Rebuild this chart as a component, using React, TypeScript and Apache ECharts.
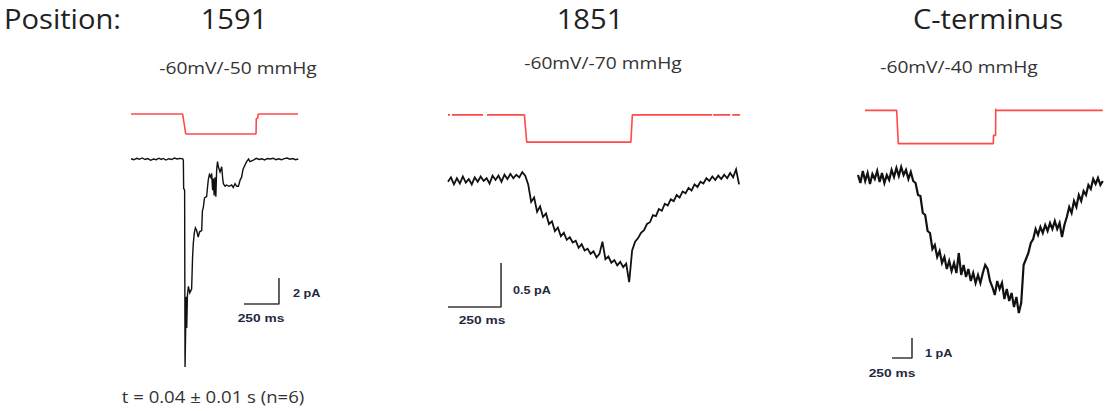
import { useEffect, useRef } from "react";
import * as echarts from "echarts";

// ---------- texts ----------
const headerLabel = "Position:";
const positionLabels = ["1591", "1851", "C-terminus"];
const conditionLabels = ["-60mV/-50 mmHg", "-60mV/-70 mmHg", "-60mV/-40 mmHg"];
const footerLabel = "t = 0.04 \u00b1 0.01 s (n=6)";

// ---------- pressure steps (ms, mmHg) ----------
const stim1Time = [0, 369, 391, 893, 895, 905, 909, 1193];
const stim1Pressure = [0, 0, -50, -50, -12, -10, 0, 0];

const stim2Time = [0, 9, 12, 19, 165, 175, 184, 360, 371, 858, 862, 869, 1245, 1247, 1250, 1330, 1335, 1340, 1376];
const stim2Pressure = [0, 0, "-", 0, 0, "-", 0, 0, -70, -70, -70, 0, 0, "-", 0, 0, "-", 0, 0];

const stim3Time = [87, 483, 504, 1692, 1694, 1720, 1722, 1725, 3060];
const stim3Pressure = [0, 0, -40, -40, -30, -30, 2, 0, 0];

// ---------- current traces (pA) ----------
const trace1Time = [
  0, 20, 40, 60, 80, 100, 120, 140, 160, 180, 200, 215, 230, 250, 270, 290, 310, 330, 350, 370,
  374, 376, 383, 386, 390, 395, 398, 403, 410, 420, 433, 440, 445, 452, 460, 469, 480, 490, 505, 510,
  517, 525, 540, 552, 560, 570, 576, 583, 588, 594, 600, 606, 612, 618, 624, 636, 648, 655, 660, 672,
  683, 700, 719, 730, 743, 755, 767, 780, 790, 800, 814, 826, 840, 850, 874, 895, 915, 935, 955, 975,
  995, 1015, 1035, 1055, 1075, 1095, 1115, 1135, 1155, 1175, 1195,
];
const trace1Current = [
  0.02, -0.06, 0.05, -0.02, 0.08, -0.04, 0.03, -0.1, 0.0, -0.05, 0.06, -0.03, 0.04, -0.08, 0.02, -0.04, 0.07, 0.0, 0.05, 0.01,
  -0.1, -2.25, -2.4, -16, -13.4, -10.6, -13, -10.5, -9.8, -10.3, -10, -7.5, -6.5, -5.7, -5.3, -5.5, -6, -5.6, -5.5, -4,
  -3.7, -3, -2.9, -1.6, -1.2, -1.4, -1.1, -2.4, -1.5, -2.8, -1.4, -2.9, -0.8, -0.2, -0.6, -1, -0.6, -1.5, -1.9, -2.1,
  -2, -2.1, -2, -2.2, -1.9, -2.1, -2.1, -1.6, -1.4, -0.8, -0.46, -0.2, 0, -0.2, -0.08, 0.05, -0.04, 0.02, -0.07, 0.04,
  0.0, 0.06, -0.05, 0.02, -0.06, 0.03, 0.07, -0.02, 0.04, -0.05, 0.0,
];

const trace2SampleMs = 14;
const trace2Current = [
  -0.02, 0.03, -0.05, 0.02, -0.04, 0.04, -0.03, 0.01, -0.05, 0.03,
  -0.02, 0.04, -0.01, 0.02, -0.04, 0.05, 0.0, 0.05, -0.02, 0.06,
  0.01, 0.07, 0.02, 0.06, 0.03, 0.09, 0.05, -0.05, -0.25, -0.2,
  -0.36, -0.3, -0.42, -0.38, -0.5, -0.47, -0.58, -0.54, -0.64, -0.6,
  -0.68, -0.65, -0.71, -0.69, -0.77, -0.73, -0.8, -0.78, -0.84, -0.81,
  -0.88, -0.84, -0.7, -0.9, -0.87, -0.94, -0.91, -0.97, -0.93, -0.99,
  -0.95, -1.16, -0.8, -0.7, -0.66, -0.6, -0.57, -0.5, -0.48, -0.4,
  -0.41, -0.33, -0.35, -0.27, -0.29, -0.22, -0.24, -0.17, -0.2, -0.13,
  -0.15, -0.09, -0.12, -0.05, -0.08, -0.02, -0.04, 0.02, -0.01, 0.04,
  0.0, 0.05, 0.01, 0.06, 0.02, 0.08, 0.03, 0.12, -0.05,
];

const trace3SampleMs = 30;
const trace3Current = [
  0.1, -0.3, 0.3, -0.2, 0.2, -0.35, 0.15, -0.1, 0.3, -0.25,
  0.2, -0.3, 0.1, -0.15, 0.35, 0.0, 0.45, 0.05, 0.5, 0.1,
  0.35, -0.1, 0.25, -0.2, -0.3, -0.9, -0.95, -1.8, -1.9, -2.7,
  -2.8, -3.6, -3.4, -4.0, -3.7, -4.3, -4.0, -4.6, -4.2, -4.7,
  -4.3, -4.8, -3.8, -4.9, -4.4, -5.0, -4.6, -5.2, -4.8, -5.3,
  -4.9, -5.3, -4.8, -4.4, -4.6, -5.2, -5.5, -5.9, -5.2, -5.6,
  -5.3, -6.1, -5.6, -6.2, -5.8, -6.5, -6.0, -6.8, -6.3, -4.4,
  -4.1, -3.8, -3.3, -3.1, -2.6, -2.9, -2.5, -2.8, -2.4, -2.7,
  -2.3, -2.6, -2.2, -2.6, -2.3, -3.0, -2.4, -2.0, -1.5, -1.8,
  -1.2, -1.5, -0.9, -1.2, -0.7, -0.9, -0.4, -0.6, -0.1, -0.35,
  -0.05, -0.4, -0.2,
];

// ---------- scale bars ----------
const scaleBarMs = [250, 250, 250];
const scaleBarPa = [2, 0.5, 1];

export default function App() {
  const ref = useRef<HTMLDivElement>(null);

  useEffect(() => {
    if (!ref.current) return;
    const chart = echarts.init(ref.current, null, { renderer: "svg" });

    const stimData = [
      stim1Time.map((t, i) => [t, stim1Pressure[i]]),
      stim2Time.map((t, i) => [t, stim2Pressure[i]]),
      stim3Time.map((t, i) => [t, stim3Pressure[i]]),
    ];
    const traceData = [
      trace1Time.map((t, i) => [t, trace1Current[i]]),
      trace2Current.map((v, i) => [i * trace2SampleMs, v]),
      trace3Current.map((v, i) => [i * trace3SampleMs, v]),
    ];

    const layout = [
      {
        stim: { left: 131, top: 110, width: 168, height: 28, xMax: 1200, yMin: -60, yMax: 10 },
        trace: { left: 131, top: 146, width: 168, height: 221, xMax: 1200, yMin: -16, yMax: 1 },
        traceWidth: 1.4,
        corner: [1057, -11.15],
        pALabel: [293, 293],
        msLabel: [261, 318],
        title: [234, 18],
        cond: [238, 68],
      },
      {
        stim: { left: 448, top: 111, width: 297, height: 35, xMax: 1400, yMin: -80, yMax: 10 },
        trace: { left: 448, top: 158, width: 297, height: 154, xMax: 1400, yMin: -1.5, yMax: 0.25 },
        traceWidth: 1.8,
        corner: [250, -1.443],
        pALabel: [513, 290],
        msLabel: [482, 320],
        title: [590, 18],
        cond: [603, 63],
      },
      {
        stim: { left: 858, top: 102, width: 248, height: 50, xMax: 3100, yMin: -50, yMax: 10 },
        trace: { left: 858, top: 157, width: 248, height: 210, xMax: 3100, yMin: -9.5, yMax: 1 },
        traceWidth: 2.2,
        corner: [675, -9.05],
        pALabel: [925, 353],
        msLabel: [892, 373],
        title: [988, 18],
        cond: [959, 67],
      },
    ];

    const grids: any[] = [];
    const xAxes: any[] = [];
    const yAxes: any[] = [];
    const series: any[] = [];
    const graphics: any[] = [];

    const txt = (
      text: string,
      x: number,
      y: number,
      font: string,
      fill: string,
      align: string,
      scaleX = 1
    ) => ({
      type: "text",
      x,
      y,
      scaleX,
      silent: true,
      style: {
        text,
        x: 0,
        y: 0,
        font,
        fill,
        align,
        verticalAlign: "middle",
        textAlign: align,
        textVerticalAlign: "middle",
      },
    });

    layout.forEach((p, k) => {
      [p.stim, p.trace].forEach((g) => {
        grids.push({ left: g.left, top: g.top, width: g.width, height: g.height, containLabel: false });
        const gi = grids.length - 1;
        xAxes.push({ type: "value", gridIndex: gi, min: 0, max: g.xMax, show: false });
        yAxes.push({ type: "value", gridIndex: gi, min: g.yMin, max: g.yMax, show: false });
      });
      const sIdx = 2 * k;
      const tIdx = 2 * k + 1;
      series.push({
        type: "line",
        xAxisIndex: sIdx,
        yAxisIndex: sIdx,
        data: stimData[k],
        showSymbol: false,
        symbol: "none",
        clip: false,
        connectNulls: false,
        lineStyle: { color: "#ff4a4a", width: 1.6 },
      });
      series.push({
        type: "line",
        xAxisIndex: tIdx,
        yAxisIndex: tIdx,
        data: traceData[k],
        showSymbol: false,
        symbol: "none",
        clip: false,
        lineStyle: { color: "#111111", width: p.traceWidth, join: "miter" },
      });
      const [cx, cy] = p.corner;
      series.push({
        type: "line",
        xAxisIndex: tIdx,
        yAxisIndex: tIdx,
        data: [
          [cx - scaleBarMs[k], cy],
          [cx, cy],
          [cx, cy + scaleBarPa[k]],
        ],
        showSymbol: false,
        symbol: "none",
        clip: false,
        lineStyle: { color: "#3a3a3a", width: 1.6 },
      });

      graphics.push(txt(positionLabels[k], p.title[0], p.title[1], "28px 'Open Sans'", "#222222", "center", 1.04));
      graphics.push(txt(conditionLabels[k], p.cond[0], p.cond[1], "16px 'Open Sans'", "#333333", "center", 1.2));
      graphics.push(
        txt(`${scaleBarPa[k]} pA`, p.pALabel[0], p.pALabel[1], "bold 11px 'Liberation Sans'", "#1f2940", "left", 1.15)
      );
      graphics.push(
        txt(`${scaleBarMs[k]} ms`, p.msLabel[0], p.msLabel[1], "bold 11px 'Liberation Sans'", "#1f2940", "center", 1.25)
      );
    });

    graphics.push(txt(headerLabel, 4, 18, "28px 'Open Sans'", "#222222", "left", 1.04));
    graphics.push(txt(footerLabel, 213, 397, "16px 'Open Sans'", "#333333", "center", 1.16));

    chart.setOption({
      animation: false,
      backgroundColor: "#ffffff",
      grid: grids,
      xAxis: xAxes,
      yAxis: yAxes,
      series,
      graphic: graphics,
    });

    return () => chart.dispose();
  }, []);

  return (
    <div
      ref={ref}
      style={{ position: "absolute", left: 0, top: 0, width: 1107, height: 411, background: "#fff" }}
    />
  );
}
